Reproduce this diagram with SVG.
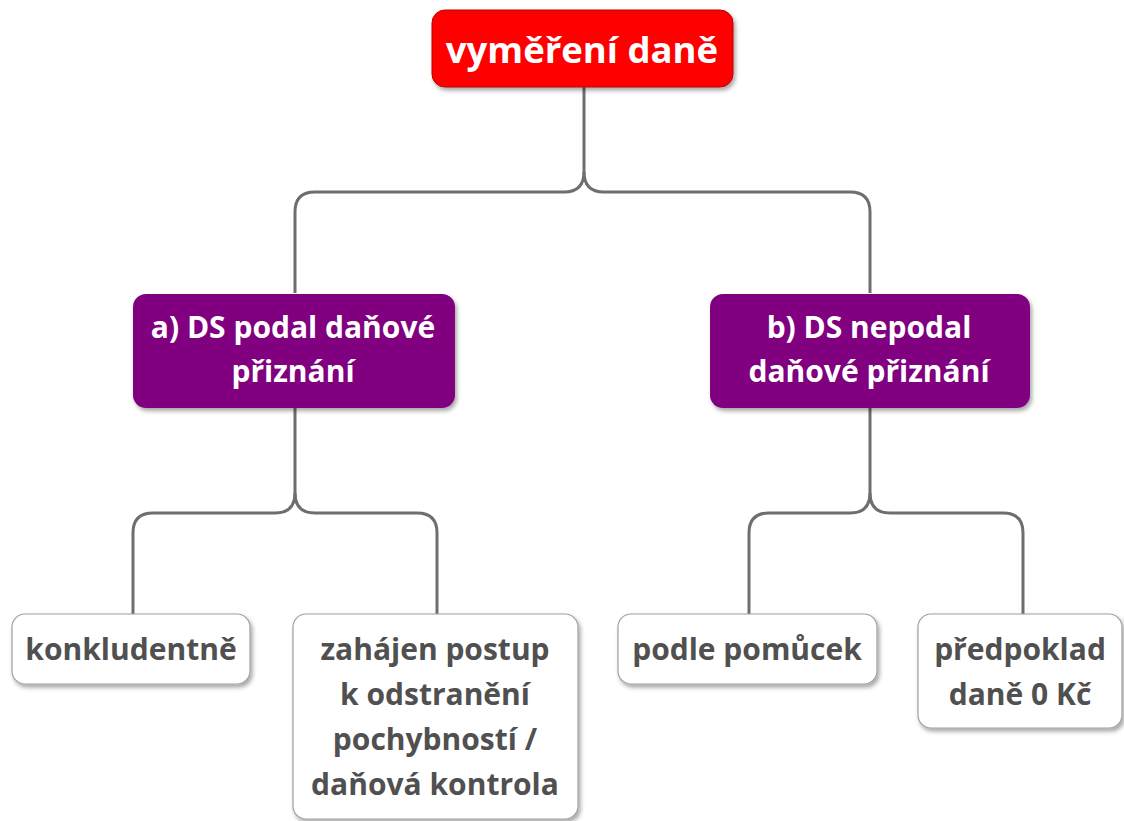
<svg xmlns="http://www.w3.org/2000/svg" width="1124" height="821" viewBox="0 0 1124 821">
<defs>
<filter id="sh" x="-10%" y="-10%" width="130%" height="140%">
<feDropShadow dx="2" dy="3" stdDeviation="2" flood-color="#000" flood-opacity="0.35"/>
</filter>
<style>
.t{font-family:"Open Sans","Liberation Sans",sans-serif;font-weight:bold;text-anchor:middle;font-size:30px}
.w{fill:#ffffff}
.g{fill:#505050}
.leaf{fill:#ffffff;stroke:#a0a0a0;stroke-width:1.2}
.con{fill:none;stroke:#6e6e6e;stroke-width:3}
</style>
</defs>
<g id="connectors">
<path class="con" d="M584 87 V172 Q584 192 564 192 H315 Q295 192 295 212 V293"/>
<path class="con" d="M584 172 Q584 192 604 192 H850 Q870 192 870 212 V293"/>
<path class="con" d="M295 408 V493 Q295 513 275 513 H153 Q133 513 133 533 V614"/>
<path class="con" d="M295 493 Q295 513 315 513 H417 Q437 513 437 533 V614"/>
<path class="con" d="M870 408 V493 Q870 513 850 513 H769 Q749 513 749 533 V614"/>
<path class="con" d="M870 493 Q870 513 890 513 H1003 Q1023 513 1023 533 V614"/>
</g>
<g id="root">
<rect x="432" y="10" width="301" height="77" rx="13" fill="#ff0000" stroke="#c00000" stroke-width="1" filter="url(#sh)"/>
<text class="t w" x="582" y="63" style="font-size:36.5px">vyměření daně</text>
</g>
<g id="a">
<rect x="133" y="294" width="322" height="114" rx="13" fill="#800080" filter="url(#sh)"/>
<text class="t w" x="293" y="338">a) DS podal daňové</text>
<text class="t w" x="293" y="382">přiznání</text>
</g>
<g id="b">
<rect x="710" y="294" width="320" height="114" rx="13" fill="#800080" filter="url(#sh)"/>
<text class="t w" x="869" y="338">b) DS nepodal</text>
<text class="t w" x="869" y="382">daňové přiznání</text>
</g>
<g id="konkludentne">
<rect class="leaf" x="12" y="614" width="238" height="70" rx="13" filter="url(#sh)"/>
<text class="t g" x="131" y="660">konkludentně</text>
</g>
<g id="zahajen">
<rect class="leaf" x="293" y="614" width="285" height="205" rx="13" filter="url(#sh)"/>
<text class="t g" x="435" y="660">zahájen postup</text>
<text class="t g" x="435" y="705">k odstranění</text>
<text class="t g" x="435" y="750">pochybností /</text>
<text class="t g" x="435" y="795">daňová kontrola</text>
</g>
<g id="podle">
<rect class="leaf" x="618" y="614" width="259" height="70" rx="13" filter="url(#sh)"/>
<text class="t g" x="747" y="660">podle pomůcek</text>
</g>
<g id="predpoklad">
<rect class="leaf" x="918" y="614" width="204" height="114" rx="13" filter="url(#sh)"/>
<text class="t g" x="1020" y="660">předpoklad</text>
<text class="t g" x="1020" y="705">daně 0 Kč</text>
</g>
</svg>
